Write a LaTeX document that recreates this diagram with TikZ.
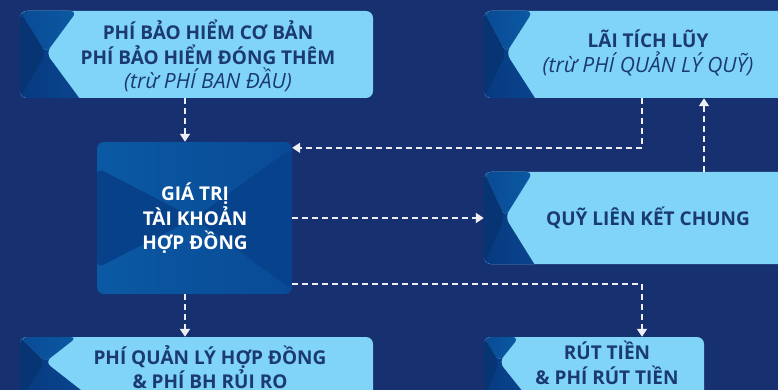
\documentclass[tikz,border=0pt]{standalone}
\usepackage{fontspec}
\setmainfont{Open Sans}
\usepackage{xcolor}
\usetikzlibrary{calc,arrows.meta}

\definecolor{navybg}{HTML}{17306F}
\definecolor{boxlight}{HTML}{80D4F7}
\definecolor{txtnavy}{HTML}{1B3A72}
\definecolor{banddark}{HTML}{083A80}
\definecolor{bandmid}{HTML}{0A4A95}
\definecolor{bandtop}{HTML}{0A5AA3}
\definecolor{ctrA}{HTML}{0B59A4}
\definecolor{ctrB}{HTML}{094A95}
\definecolor{ctrside}{HTML}{07418A}

\newcommand{\subline}[1]{{\fontsize{21}{24.5}\selectfont\mdseries\itshape #1}}

\tikzset{
  fee box/.style={fill=boxlight, rounded corners=7pt, inner sep=0pt},
  band/.style n args={3}{path picture={
    \coordinate (nw) at (path picture bounding box.north west);
    \coordinate (sw) at (path picture bounding box.south west);
    \fill[left color=banddark, right color=bandmid] (nw) -- ++(#1pt,0pt) -- ($(nw)+(#2pt,-#3pt)$)
      -- ($(nw)+(2*#1pt-#2pt,-3*#3pt)$) -- ($(nw)+(0pt,-3*#3pt)$) -- cycle;
    \fill[left color=bandmid, right color=bandtop] (nw) -- ++(#1pt,0pt) -- ($(nw)+(#2pt,-#3pt)$) -- cycle;
    \fill[banddark!90!black] (nw) -- ($(nw)+(#2pt,-#3pt)$) -- (sw) -- cycle;
  }},
  core box/.style={left color=ctrA, right color=ctrB, rounded corners=7pt, inner sep=0pt,
    path picture={
      \coordinate (cc) at (path picture bounding box.center);
      \fill[ctrside] ($(path picture bounding box.west)+(0pt,50pt)$) -- (cc)
        -- ($(path picture bounding box.west)+(0pt,-50pt)$) -- cycle;
      \fill[ctrside!85!ctrB] ($(path picture bounding box.east)+(0pt,70pt)$) -- (cc)
        -- ($(path picture bounding box.east)+(0pt,-72pt)$) -- cycle;
    }},
  lbl/.style={text=txtnavy, align=center, font=\bfseries\fontsize{19}{24.5}\selectfont},
  core lbl/.style={text=white, align=center, font=\bfseries\fontsize{19}{24.5}\selectfont},
  flow/.style={draw=white!92!navybg, line width=1.8pt, dash pattern=on 6pt off 4pt,
    -{Triangle[width=10pt,length=8pt]}}
}

\begin{document}
\begin{tikzpicture}[x=1pt, y=-1pt]
\fill[navybg] (0,0) rectangle (778,390);
\useasboundingbox (0,0) rectangle (778,390);

% boxes
\node[fee box, band={57}{26}{42}, minimum width=353pt, minimum height=87pt] (prem) at (196.5,54.5) {};
\node[fee box, band={49}{22}{42}, minimum width=328pt, minimum height=87pt] (lai) at (648,54.5) {};
\node[fee box, band={49}{21}{45}, minimum width=328pt, minimum height=92pt] (quy) at (648,218) {};
\node[core box, minimum width=195pt, minimum height=152pt] (gtc) at (194.5,218) {};
\node[fee box, band={57}{25}{25}, minimum width=353pt, minimum height=63pt] (phiql) at (196.5,368.5) {};
\node[fee box, band={35}{15}{25}, minimum width=220pt, minimum height=63pt] (rut) at (594,368.5) {};

% texts
\node[lbl] (premt) at (208,56) {PHÍ BẢO HIỂM CƠ BẢN\\PHÍ BẢO HIỂM ĐÓNG THÊM\\\subline{(trừ PHÍ BAN ĐẦU)}};
\node[lbl] (lait) at (648,53) {LÃI TÍCH LŨY\\\subline{(trừ PHÍ QUẢN LÝ QUỸ)}};
\node[lbl] (quyt) at (648,218) {QUỸ LIÊN KẾT CHUNG};
\node[core lbl] (gtct) at (195,218.5) {GIÁ TRỊ\\TÀI KHOẢN\\HỢP ĐỒNG};
\node[lbl] (phiqlt) at (210,367) {PHÍ QUẢN LÝ HỢP ĐỒNG\\\& PHÍ BH RỦI RO};
\node[lbl] (rutt) at (607,363) {RÚT TIỀN\\\& PHÍ RÚT TIỀN};

% connectors
\draw[flow] ([xshift=-9.5pt]gtc.north |- prem.south) -- ([xshift=-9.5pt]gtc.north);
\draw[flow] ([xshift=-6pt]lai.south) |- ([yshift=-6pt]gtc.north east);
\draw[flow] ([xshift=56pt]quy.north) -- ([xshift=56pt]lai.south);
\draw[flow] (gtc.east) -- (quy.west);
\draw[flow] ([yshift=10pt]gtc.south east) -| ([xshift=48pt]rut.north);
\draw[flow] ([xshift=-9.5pt]gtc.south) -- ([xshift=-9.5pt]gtc.south |- phiql.north);
\end{tikzpicture}
\end{document}
